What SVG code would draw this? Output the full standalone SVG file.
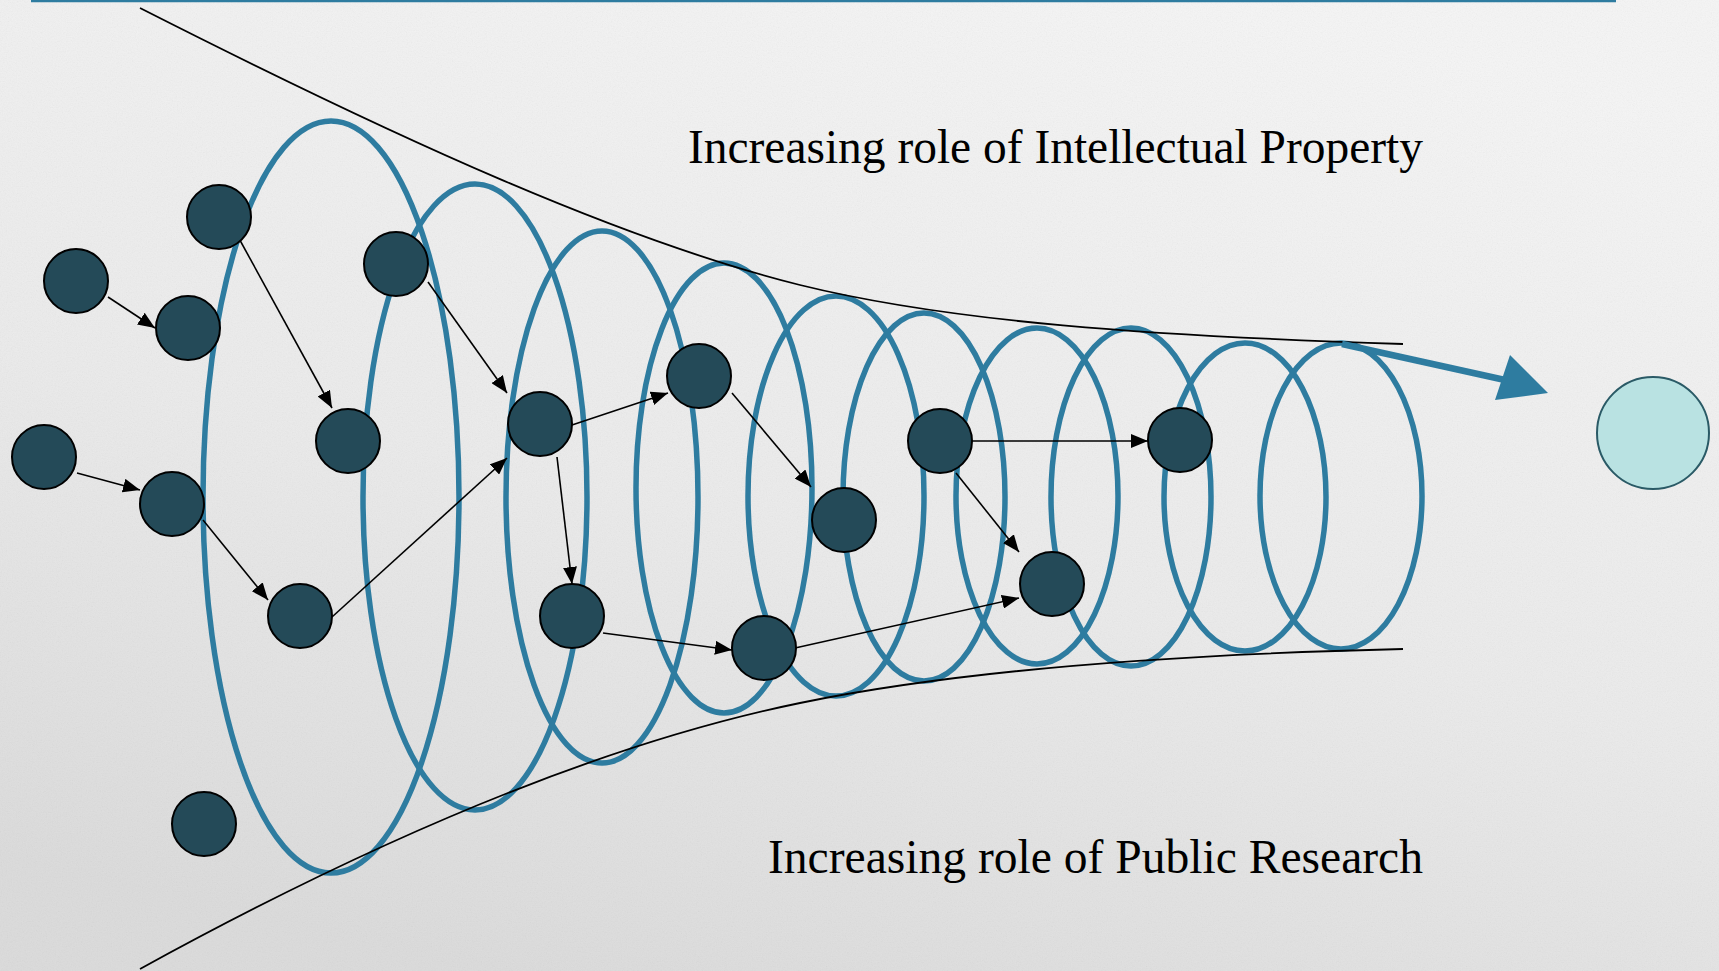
<svg xmlns="http://www.w3.org/2000/svg" width="1719" height="971" viewBox="0 0 1719 971">
  <defs>
    <linearGradient id="bg" x1="0.7" y1="0" x2="0.3" y2="1">
      <stop offset="0" stop-color="#f5f5f5"/>
      <stop offset="0.55" stop-color="#ebebeb"/>
      <stop offset="1" stop-color="#dbdbdb"/>
    </linearGradient>
    <filter id="noise" x="0" y="0" width="100%" height="100%">
      <feTurbulence type="fractalNoise" baseFrequency="0.8" numOctaves="2" seed="3"/>
      <feColorMatrix type="saturate" values="0"/>
      <feComponentTransfer>
        <feFuncA type="table" tableValues="0 0.12"/>
      </feComponentTransfer>
    </filter>
    <marker id="ah" markerUnits="userSpaceOnUse" markerWidth="18" markerHeight="14" refX="17" refY="7" orient="auto">
      <path d="M0,0 L17,7 L0,14 z" fill="#000"/>
    </marker>
    <style>
      .ring { fill: none; stroke: #2e7ca0; stroke-width: 5.5; }
      .funnel { fill: none; stroke: #000; stroke-width: 1.8; }
      .node { fill: #244a58; stroke: #000; stroke-width: 2; }
      .goal { fill: #b9e2e2; stroke: #2a5a66; stroke-width: 2; }
      .link { fill: none; stroke: #000; stroke-width: 1.6; marker-end: url(#ah); }
      .label { font-family: "Liberation Serif", "Times New Roman", serif; font-size: 47.5px; fill: #000; }
    </style>
  </defs>

  <rect x="0" y="0" width="1719" height="971" fill="url(#bg)"/>
  <rect x="0" y="0" width="1719" height="971" filter="url(#noise)"/>

  <line x1="31" y1="1" x2="1616" y2="1" stroke="#2e7ca0" stroke-width="2.5"/>

  <g id="rings">
    <ellipse class="ring" cx="331" cy="497" rx="128" ry="376"/>
    <ellipse class="ring" cx="475" cy="497" rx="112" ry="313"/>
    <ellipse class="ring" cx="602" cy="497" rx="96" ry="266"/>
    <ellipse class="ring" cx="724" cy="488" rx="88" ry="225"/>
    <ellipse class="ring" cx="836" cy="496" rx="88" ry="200"/>
    <ellipse class="ring" cx="924" cy="497" rx="81" ry="184"/>
    <ellipse class="ring" cx="1037" cy="496" rx="81" ry="168"/>
    <ellipse class="ring" cx="1131" cy="497" rx="80" ry="169"/>
    <ellipse class="ring" cx="1245" cy="497" rx="81" ry="154"/>
    <ellipse class="ring" cx="1341" cy="496" rx="81" ry="153"/>
  </g>

  <g id="funnel">
    <path class="funnel" d="M140,8 C400,140 620,240 800,285 C950,322 1150,336 1403,344"/>
    <path class="funnel" d="M140,969 C400,826 620,740 800,703 C950,672 1150,655 1403,649"/>
  </g>

  <g id="connectors">
    <path class="link" d="M108,297 L155,328"/>
    <path class="link" d="M236,233 L332,408"/>
    <path class="link" d="M428,282 L507,393"/>
    <path class="link" d="M77,473 L140,490"/>
    <path class="link" d="M203,520 L268,600"/>
    <path class="link" d="M332,617 L507,458"/>
    <path class="link" d="M572,425 L668,393"/>
    <path class="link" d="M557,457 L572,584"/>
    <path class="link" d="M732,393 L811,487"/>
    <path class="link" d="M603,633 L732,650"/>
    <path class="link" d="M795,648 L1019,598"/>
    <path class="link" d="M956,473 L1019,552"/>
    <path class="link" d="M972,441 L1148,441"/>
    <g id="main-arrow">
      <line x1="1342" y1="344" x2="1505" y2="380" stroke="#2e7ca0" stroke-width="6.5"/>
      <polygon points="1510,355 1548,393 1495,400" fill="#2e7ca0"/>
    </g>
  </g>

  <g id="n1"><circle class="node" cx="219" cy="217" r="32"/></g>
  <g id="n2"><circle class="node" cx="76" cy="281" r="32"/></g>
  <g id="n3"><circle class="node" cx="188" cy="328" r="32"/></g>
  <g id="n4"><circle class="node" cx="396" cy="264" r="32"/></g>
  <g id="n5"><circle class="node" cx="44" cy="457" r="32"/></g>
  <g id="n6"><circle class="node" cx="172" cy="504" r="32"/></g>
  <g id="n7"><circle class="node" cx="348" cy="441" r="32"/></g>
  <g id="n8"><circle class="node" cx="540" cy="424" r="32"/></g>
  <g id="n9"><circle class="node" cx="699" cy="376" r="32"/></g>
  <g id="n10"><circle class="node" cx="300" cy="616" r="32"/></g>
  <g id="n11"><circle class="node" cx="572" cy="616" r="32"/></g>
  <g id="n12"><circle class="node" cx="764" cy="648" r="32"/></g>
  <g id="n13"><circle class="node" cx="844" cy="520" r="32"/></g>
  <g id="n14"><circle class="node" cx="940" cy="441" r="32"/></g>
  <g id="n15"><circle class="node" cx="1180" cy="440" r="32"/></g>
  <g id="n16"><circle class="node" cx="1052" cy="584" r="32"/></g>
  <g id="n17"><circle class="node" cx="204" cy="824" r="32"/></g>
  <g id="goal"><circle class="goal" cx="1653" cy="433" r="56"/></g>

  <g id="labels">
    <text class="label" x="688" y="163" textLength="735" lengthAdjust="spacingAndGlyphs">Increasing role of Intellectual Property</text>
    <text class="label" x="768" y="873" textLength="655" lengthAdjust="spacingAndGlyphs">Increasing role of Public Research</text>
  </g>
</svg>
